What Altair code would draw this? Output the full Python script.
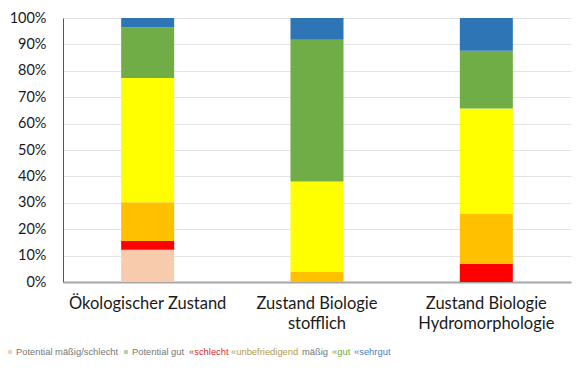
import altair as alt
import pandas as pd

categories = ["Ökologischer Zustand", "Zustand Biologie stofflich", "Zustand Biologie Hydromorphologie"]
classes = ["Potential mäßig/schlecht", "Potential gut", "schlecht", "unbefriedigend", "mäßig", "gut", "sehr gut"]
class_colors = ["#F8CBAD", "#A9D18E", "#FF0000", "#FFC000", "#FFFF00", "#70AD47", "#2E75B6"]

pot_maessig_schlecht = [12.2, 0.0, 0.0]
pot_gut = [0.0, 0.0, 0.0]
schlecht = [3.3, 0.0, 6.9]
unbefriedigend = [14.7, 3.8, 19.0]
maessig = [47.1, 34.3, 39.8]
gut = [19.1, 53.7, 21.9]
sehr_gut = [3.6, 8.2, 12.4]

series = [pot_maessig_schlecht, pot_gut, schlecht, unbefriedigend, maessig, gut, sehr_gut]

rows = []
for ci, (cls, vals) in enumerate(zip(classes, series)):
    for cat, v in zip(categories, vals):
        rows.append({"Kategorie": cat, "Klasse": cls, "Anteil": v / 100.0, "Ordnung": ci})
df = pd.DataFrame(rows)

# legend entries (text, colour); layout positions kept separately
legend_texts = ["Potential mäßig/schlecht", "Potential gut", "«schlecht", "«unbefriedigend", "mäßig", "«gut", "«sehrgut"]
legend_text_colors = ["#767676", "#767676", "#DA2E2E", "#B49B4C", "#767676", "#6FA845", "#4A7EBB"]
legend_squares = ["#F8CBAD", "#A9D18E"]
legend_text_pos = [-47, 69, 126, 168, 239, 269, 291]
legend_square_pos = [-53, 63]
LEG_Y = 334

W, H = 508, 264

bars = alt.Chart(df).mark_bar(size=53).encode(
    x=alt.X("Kategorie:N", sort=categories, title=None,
            scale=alt.Scale(paddingInner=0, paddingOuter=0),
            axis=alt.Axis(labelAngle=0, ticks=False, domainColor="#A6A6A6", domainWidth=2,
                          labelFont="Lato", labelFontSize=16.5, labelColor="#1a1a1a",
                          labelPadding=13, labelLineHeight=20.5,
                          labelExpr="indexof(datum.label, 'Biologie') > 0 ? ['Zustand Biologie', replace(datum.label, 'Zustand Biologie ', '')] : datum.label")),
    y=alt.Y("Anteil:Q", stack="zero", title=None,
            scale=alt.Scale(domain=[0, 1], nice=False),
            axis=alt.Axis(format="%", values=[i / 10 for i in range(11)], ticks=False,
                          domainColor="#595959", domainWidth=1, gridColor="#E3E3E3",
                          labelFont="Lato", labelFontSize=14.5, labelColor="#1a1a1a",
                          labelPadding=17)),
    color=alt.Color("Klasse:N", scale=alt.Scale(domain=classes, range=class_colors), legend=None),
    order=alt.Order("Ordnung:Q", sort="ascending"),
)

layers = [bars]
one = alt.Data(values=[{"k": 1}])
for txt, col, px in zip(legend_texts, legend_text_colors, legend_text_pos):
    layers.append(
        alt.Chart(one).mark_text(text=txt, align="left", baseline="middle", font="Liberation Sans",
                                 fontSize=9.4, color=col).encode(x=alt.value(px), y=alt.value(LEG_Y))
    )
for col, px in zip(legend_squares, legend_square_pos):
    layers.append(
        alt.Chart(one).mark_square(size=14, color=col, opacity=1, filled=True)
        .encode(x=alt.value(px), y=alt.value(LEG_Y))
    )

chart = alt.layer(*layers).properties(
    width=W, height=H,
    autosize=alt.AutoSizeParams(type="none"),
    padding={"left": 55, "top": 10, "right": 1, "bottom": 78},
).configure_view(stroke=None)

chart.save("out.html", embed_options={"renderer": "svg", "actions": False})
